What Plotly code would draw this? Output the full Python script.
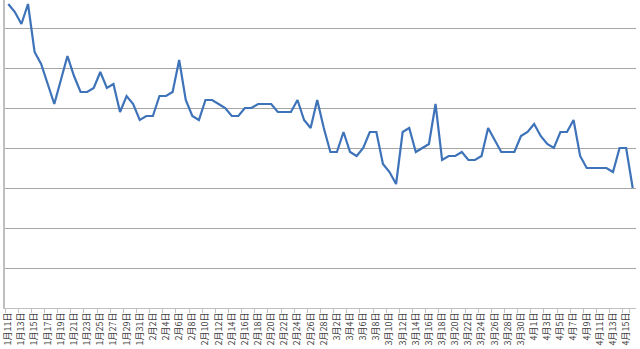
import datetime
import plotly.graph_objects as go

start = datetime.date(2015, 1, 11)
dates = [start + datetime.timedelta(days=i) for i in range(96)]
categories = [f"{d.month}月{d.day}日" for d in dates]

values = [76, 74, 71, 76, 64, 61, 56, 51, 57, 63, 58, 54, 54, 55, 59, 55, 56, 49, 53, 51,
          47, 48, 48, 53, 53, 54, 62, 52, 48, 47, 52, 52, 51, 50, 48, 48, 50, 50, 51, 51,
          51, 49, 49, 49, 52, 47, 45, 52, 45, 39, 39, 44, 39, 38, 40, 44, 44, 36, 34, 31,
          44, 45, 39, 40, 41, 51, 37, 38, 38, 39, 37, 37, 38, 45, 42, 39, 39, 39, 43, 44,
          46, 43, 41, 40, 44, 44, 47, 38, 35, 35, 35, 35, 34, 40, 40, 30]

tick_labels = categories[::2]

fig = go.Figure()
fig.add_trace(go.Scatter(
    x=categories, y=values, mode="lines",
    line=dict(color="#3E73B9", width=2.2),
    hoverinfo="skip",
))

fig.update_layout(
    width=640, height=349,
    margin=dict(l=5, r=4, t=0, b=41),
    plot_bgcolor="white", paper_bgcolor="white",
    showlegend=False,
    xaxis=dict(
        type="category",
        categoryorder="array", categoryarray=categories,
        range=[-0.5, len(categories) - 0.5],
        tickmode="array", tickvals=tick_labels, ticktext=tick_labels,
        tickangle=-90,
        tickfont=dict(family="Noto Sans CJK SC", size=9, color="#404040"),
        ticks="outside", ticklen=4, tickcolor="#BFBFBF", tickson="boundaries",
        showline=True, linecolor="#BFBFBF", linewidth=1,
        showgrid=False, zeroline=False,
    ),
    yaxis=dict(
        range=[0, 77],
        tick0=0, dtick=10,
        showticklabels=False,
        showgrid=True, gridcolor="#A6A6A6", gridwidth=1,
        showline=True, linecolor="#BFBFBF", linewidth=2,
        zeroline=False, ticks="",
    ),
)

fig.write_html("out.html")
